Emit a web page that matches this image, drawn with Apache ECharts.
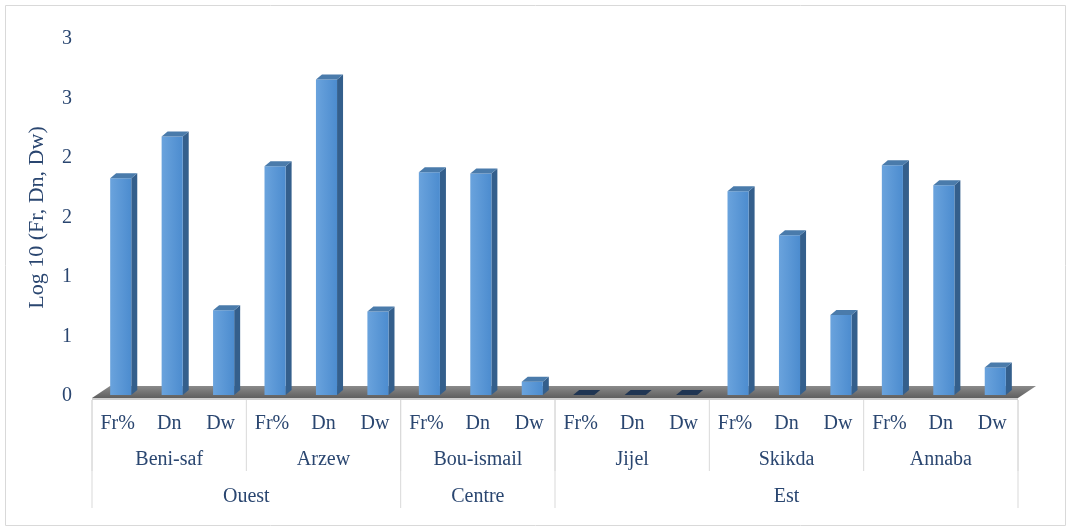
<!DOCTYPE html>
<html>
<head>
<meta charset="utf-8">
<script src="https://cdn.jsdelivr.net/npm/echarts@6/dist/echarts.min.js"></script>
<style>
  html, body { margin: 0; padding: 0; background: #fff; }
  #container { width: 1071px; height: 530px; }
</style>
</head>
<body>
<div id="container"></div>
<script>
var metrics = ['Fr%', 'Dn', 'Dw'];
var cities = ['Beni-saf', 'Arzew', 'Bou-ismail', 'Jijel', 'Skikda', 'Annaba'];
var regions = ['Ouest', 'Centre', 'Est'];
var regionSpan = [2, 1, 3]; // number of cities in each region
var frValues = [1.83, 1.93, 1.88, 0, 1.72, 1.94];
var dnValues = [2.18, 2.66, 1.87, 0, 1.35, 1.77];
var dwValues = [0.72, 0.71, 0.12, 0, 0.68, 0.24];
var yTickLabels = ['0', '1', '1', '2', '2', '3', '3'];

window.onload = function() {

var chartDom = document.getElementById('container');
var myChart = echarts.init(chartDom);
var option;

var textColor = '#2a4670';
var fontFamily = '"Liberation Serif", "Times New Roman", serif';

var categories = [];
var barData = [];
cities.forEach(function (c, i) {
  var vals = [frValues[i], dnValues[i], dwValues[i]];
  metrics.forEach(function (m, j) {
    categories.push(m);
    barData.push([categories.length - 1, vals[j]]);
  });
});

var cityData = cities.map(function (c, i) { return [i * metrics.length, 0]; });
var regionData = [];
var start = 0;
regions.forEach(function (r, i) {
  regionData.push([start * metrics.length, 0]);
  start += regionSpan[i];
});

function renderBar(params, api) {
  var idx = api.value(0), v = api.value(1);
  var base = api.coord([idx, 0]);
  var top = api.coord([idx, v]);
  var slot = api.size([1, 0])[0];
  var w = slot * 0.41, dx = 6, dy = 5;
  var x0 = base[0] - w / 2 + 3, x1 = x0 + w;
  var yb = base[1] - 1, yt = Math.min(top[1], yb);
  var children = [];
  if (yb - yt > 0) {
    children.push({
      type: 'polygon',
      shape: { points: [[x1, yt], [x1 + dx, yt - dy], [x1 + dx, yb - dy], [x1, yb]] },
      style: { fill: '#345f8c' }
    });
    children.push({
      type: 'rect',
      shape: { x: x0, y: yt, width: w, height: yb - yt },
      style: {
        fill: new echarts.graphic.LinearGradient(0, 0, 1, 0, [
          { offset: 0, color: '#6aa3dd' },
          { offset: 1, color: '#4c8ccf' }
        ])
      }
    });
  }
  children.push({
    type: 'polygon',
    shape: { points: [[x0, yt], [x1, yt], [x1 + dx, yt - dy], [x0 + dx, yt - dy]] },
    style: { fill: v > 0 ? '#4a7bab' : '#1f3553' }
  });
  return { type: 'group', children: children };
}

function renderFloor(params, api) {
  var slot = api.size([1, 0])[0];
  var p0 = api.coord([0, 0]);
  var p1 = api.coord([categories.length - 1, 0]);
  var L = p0[0] - slot / 2, R = p1[0] + slot / 2, y0 = p0[1];
  return {
    type: 'group',
    children: [
      {
        type: 'polygon',
        shape: { points: [[L, y0 + 2], [R, y0 + 2], [R + 18, y0 - 10], [L + 18, y0 - 10]] },
        style: {
          fill: new echarts.graphic.LinearGradient(0, 0, 0, 1, [
            { offset: 0, color: '#8a8a8a' },
            { offset: 1, color: '#5f5f5f' }
          ])
        }
      },
      {
        type: 'rect',
        shape: { x: L, y: y0 + 2, width: R - L, height: 2 },
        style: { fill: '#cfcfcf' }
      }
    ]
  };
}

function tierRenderer(names, spans, textOffset, lineLength) {
  return function (params, api) {
    var i = params.dataIndex;
    var slot = api.size([1, 0])[0];
    var p = api.coord([api.value(0), 0]);
    var x1 = p[0] - slot / 2;
    var x2 = x1 + spans[i] * slot;
    var y0 = p[1];
    var children = [
      {
        type: 'line',
        shape: { x1: x1, y1: y0 + 4, x2: x1, y2: y0 + lineLength },
        style: { stroke: '#d9d9d9', lineWidth: 1 }
      },
      {
        type: 'text',
        style: {
          text: names[i], x: (x1 + x2) / 2, y: y0 + textOffset,
          align: 'center', verticalAlign: 'middle',
          fill: textColor, fontSize: 20, fontFamily: fontFamily
        }
      }
    ];
    if (i === names.length - 1) {
      children.push({
        type: 'line',
        shape: { x1: x2, y1: y0 + 4, x2: x2, y2: y0 + lineLength },
        style: { stroke: '#d9d9d9', lineWidth: 1 }
      });
    }
    return { type: 'group', children: children };
  };
}

var citySpans = cities.map(function () { return metrics.length; });
var regionSpans = regionSpan.map(function (n) { return n * metrics.length; });

option = {
  animation: false,
  graphic: [{
    type: 'rect',
    shape: { x: 5.5, y: 5.5, width: 1060, height: 520 },
    style: { fill: null, stroke: '#d9d9d9', lineWidth: 1 },
    silent: true
  }],
  grid: { left: 92, right: 53, top: 39, bottom: 134 },
  xAxis: {
    type: 'category',
    data: categories,
    axisLine: { show: false },
    axisTick: { show: false },
    axisLabel: {
      interval: 0, margin: 18, lineHeight: 20,
      color: textColor, fontSize: 20, fontFamily: fontFamily
    }
  },
  yAxis: {
    type: 'value',
    min: 0, max: 3, interval: 0.5,
    name: 'Log 10 (Fr, Dn, Dw)',
    nameLocation: 'middle',
    nameRotate: 90,
    nameGap: 44,
    nameTextStyle: { color: textColor, fontSize: 22, fontFamily: fontFamily },
    axisLine: { show: false },
    axisTick: { show: false },
    splitLine: { show: false },
    axisLabel: {
      margin: 20, color: textColor, fontSize: 20, fontFamily: fontFamily,
      formatter: function (v) { return yTickLabels[Math.round(v * 2)]; }
    }
  },
  series: [
    { type: 'custom', name: 'floor', renderItem: renderFloor, data: [[0, 0]], silent: true },
    { type: 'custom', name: 'bars', renderItem: renderBar, data: barData, clip: false },
    { type: 'custom', name: 'cities', renderItem: tierRenderer(cities, citySpans, 64, 75), data: cityData, silent: true },
    { type: 'custom', name: 'regions', renderItem: tierRenderer(regions, regionSpans, 101, 112), data: regionData, silent: true }
  ]
};

option && myChart.setOption(option);

}
</script>
</body>
</html>
